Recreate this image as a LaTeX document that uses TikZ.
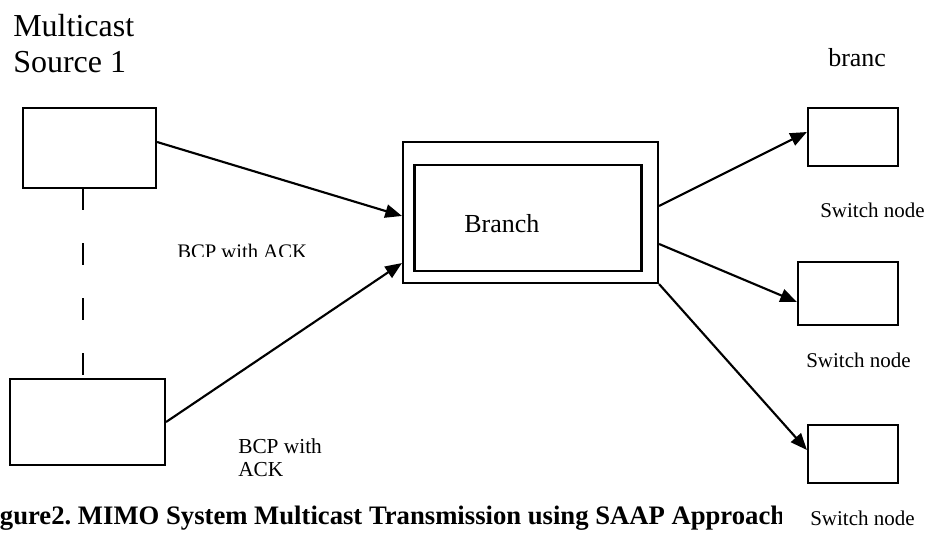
\documentclass[tikz,border=0pt]{standalone}
\usepackage{fontspec}
\setmainfont{Liberation Serif}
\usetikzlibrary{arrows.meta}

\begin{document}
\begin{tikzpicture}[x=0.75pt, y=-0.75pt]
\tikzset{boite/.style={draw, line width=1.6pt, inner sep=0pt}}
\tikzset{fleche/.style={line width=1.6pt, -{Triangle[length=12.5pt, width=10pt]}}}
\tikzset{texte/.style={inner sep=0pt, anchor=base west, align=left}}
\useasboundingbox (0, 0) rectangle (930, 538);
\node[texte, font=\fontsize{24}{27}\selectfont] (M) at (13, 73) {Multicast\\Source 1};
\node[texte, font=\fontsize{19.5}{22}\selectfont] (T) at (828, 67) {branc};
\node[boite, minimum width=99.75pt, minimum height=60pt] (S1) at (89.5, 148) {};
\node[boite, minimum width=116.25pt, minimum height=64.5pt] (S2) at (87.5, 422) {};
\node[boite, minimum width=191.25pt, minimum height=105.75pt] (B) at (530.5, 212.5) {};
\node[boite, minimum width=170.25pt, minimum height=79.5pt] (Bin) at (528, 218) {};
\node[texte, font=\fontsize{19.5}{22}\selectfont] (L) at (464, 233) {Branch};
\node[boite, minimum width=67.5pt, minimum height=43.5pt] (W1) at (853, 137) {};
\node[boite, minimum width=75pt, minimum height=47.25pt] (W2) at (848, 293.5) {};
\node[boite, minimum width=67.5pt, minimum height=43.5pt] (W3) at (853, 454) {};
\node[texte, font=\fontsize{15.75}{17}\selectfont] (N1) at (820, 217) {Switch node};
\node[texte, font=\fontsize{15.75}{17}\selectfont] (N2) at (806, 367) {Switch node};
\node[texte, font=\fontsize{15.75}{17}\selectfont] (N3) at (810, 525) {Switch node};
\node[texte, font=\fontsize{16}{17.25}\selectfont] (A2) at (238, 476) {BCP with\\ACK};
\begin{scope}
\clip (150, 230) rectangle (330, 256);
\node[texte, font=\fontsize{15.5}{17}\selectfont] (A1) at (177, 258) {BCP with ACK};
\end{scope}
\begin{scope}
\clip (0, 480) rectangle (781, 538);
\node[texte, font=\bfseries\fontsize{20}{22}\selectfont] (F) at (-24, 524) {Figure2.\ MIMO System Multicast Transmission using SAAP Approach};
\end{scope}
\coordinate (D1) at (83, 188);
\draw[line width=1.6pt, dash pattern=on 16.5pt off 24.75pt] (D1) -- (D1 |- S2.north);
\draw[fleche] ([yshift=4.5pt]S1.east) -- ([yshift=-2.6pt]B.west);
\draw[fleche] (S2.east) -- ([yshift=-37.9pt]B.west);
\draw[fleche] ([yshift=4.9pt]B.east) -- ([yshift=3.75pt]W1.west);
\draw[fleche] ([yshift=-23.6pt]B.east) -- ([yshift=-6.4pt]W2.west);
\draw[fleche] (B.south east) -- ([yshift=3pt]W3.west);
\end{tikzpicture}
\end{document}
